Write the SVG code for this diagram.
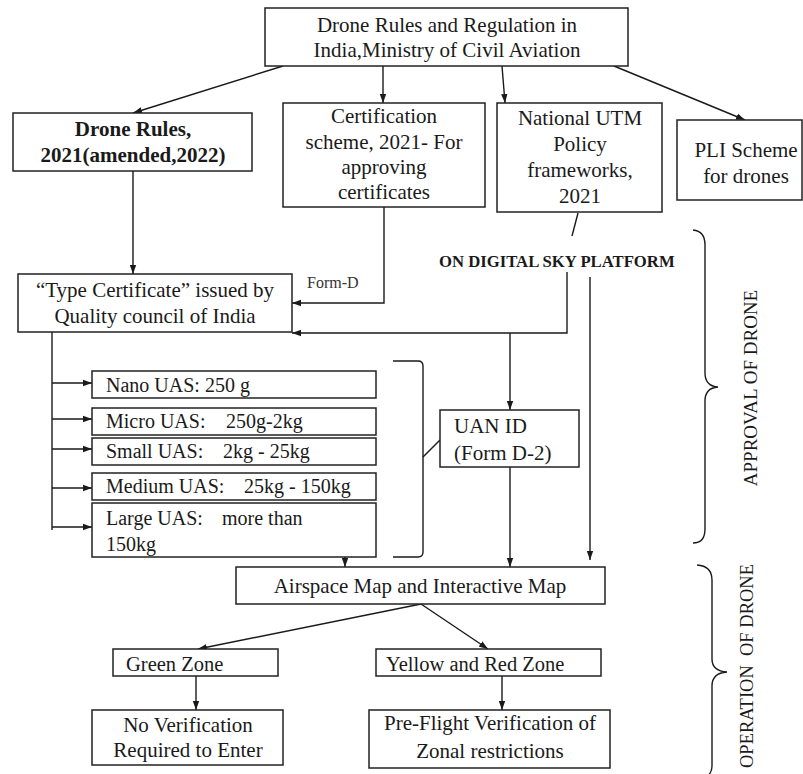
<svg xmlns="http://www.w3.org/2000/svg" width="803" height="774" viewBox="0 0 803 774">
<defs>
<marker id="ah" markerWidth="10" markerHeight="8" refX="9" refY="4" orient="auto" markerUnits="userSpaceOnUse">
<path d="M0,0.8 L9,4 L0,7.2 Z" fill="#1a1a1a"/>
</marker>
<style>
rect{fill:#fff;stroke:#222;stroke-width:1.5}
.t{font-family:"Liberation Serif","Times New Roman",serif;font-size:21px;fill:#1a1a1a}
.m{text-anchor:middle}
.u{font-size:20px}
.b{font-weight:bold}
.c line,.c polyline,.c path{fill:none;stroke:#1a1a1a;stroke-width:1.4}
.a{marker-end:url(#ah)}
</style>
</defs>
<rect x="0" y="0" width="803" height="774" style="fill:#fff;stroke:none"/>

<g id="connectors" class="c">
<line class="a" x1="283" y1="66" x2="133" y2="113"/>
<line class="a" x1="383" y1="66" x2="383" y2="103"/>
<line class="a" x1="502" y1="66" x2="505" y2="103"/>
<line class="a" x1="614" y1="66" x2="745" y2="120"/>
<line class="a" x1="133" y1="171" x2="133" y2="274"/>
<polyline class="a" points="384,207 384,303 292,303"/>
<line x1="578" y1="213" x2="572" y2="236"/>
<polyline class="a" points="567,272 567,333 292,333"/>
<line class="a" x1="510" y1="333" x2="510" y2="410"/>
<line class="a" x1="590" y1="277" x2="590" y2="560"/>
<line x1="52" y1="332" x2="52" y2="530"/>
<line class="a" x1="52" y1="383" x2="92" y2="383"/>
<line class="a" x1="52" y1="419" x2="92" y2="419"/>
<line class="a" x1="52" y1="449" x2="92" y2="449"/>
<line class="a" x1="52" y1="488" x2="92" y2="488"/>
<line class="a" x1="52" y1="527" x2="92" y2="527"/>
<path d="M393,361 L418,361 Q423,361 423,366 L423,552 Q423,557 418,557 L393,557"/>
<line x1="423" y1="457" x2="440" y2="440"/>
<line class="a" x1="510" y1="467" x2="510" y2="567"/>
<line class="a" x1="345" y1="557" x2="345" y2="567"/>
<line class="a" x1="421" y1="604" x2="198" y2="649"/>
<line class="a" x1="421" y1="604" x2="488" y2="649"/>
<line class="a" x1="196" y1="676" x2="196" y2="710"/>
<line class="a" x1="502" y1="676" x2="502" y2="710"/>
<path d="M693,230 Q705,231 705,245 L705,373 Q705,386 718,387 Q705,388 705,401 L705,529 Q705,543 693,543"/>
<path d="M697,565 Q712,566 712,580 L712,659 Q712,671 727,672 Q712,673 712,686 L712,766 Q712,778 697,779"/>
</g>

<g id="n-top">
<rect x="265" y="8" width="363" height="58"/>
<text class="t m" x="447" y="32">Drone Rules and Regulation in</text>
<text class="t m" x="447" y="57">India,Ministry of Civil Aviation</text>
</g>
<g id="n-rules">
<rect x="13" y="113" width="239" height="58"/>
<text class="t m b" x="133" y="136">Drone Rules,</text>
<text class="t m b" x="133" y="162">2021(amended,2022)</text>
</g>
<g id="n-cert">
<rect x="283" y="103" width="202" height="104"/>
<text class="t m" x="384" y="123">Certification</text>
<text class="t m" x="384" y="149">scheme, 2021- For</text>
<text class="t m" x="384" y="174">approving</text>
<text class="t m" x="384" y="199">certificates</text>
</g>
<g id="n-utm">
<rect x="497" y="103" width="165" height="109"/>
<text class="t m" x="580" y="125">National UTM</text>
<text class="t m" x="580" y="151">Policy</text>
<text class="t m" x="580" y="177">frameworks,</text>
<text class="t m" x="580" y="203">2021</text>
</g>
<g id="n-pli">
<rect x="677" y="120" width="125" height="80"/>
<text class="t m" x="746" y="157">PLI Scheme</text>
<text class="t m" x="746" y="183">for drones</text>
</g>
<g id="n-sky">
<text class="t b" x="439" y="267" style="font-size:16.7px">ON DIGITAL SKY PLATFORM</text>
</g>
<g id="n-formd">
<text class="t" x="307" y="288" style="font-size:16px;fill:#333">Form-D</text>
</g>
<g id="n-type">
<rect x="18" y="274" width="274" height="58"/>
<text class="t m" x="155" y="297">“Type Certificate” issued by</text>
<text class="t m" x="155" y="323">Quality council of India</text>
</g>
<g id="n-nano">
<rect x="92" y="371" width="284" height="27"/>
<text class="t u" x="106" y="392">Nano UAS: 250 g</text>
</g>
<g id="n-micro">
<rect x="92" y="408" width="284" height="27"/>
<text class="t u" x="106" y="428">Micro UAS:<tspan x="226">250g-2kg</tspan></text>
</g>
<g id="n-small">
<rect x="92" y="438" width="284" height="27"/>
<text class="t u" x="106" y="458">Small UAS:<tspan x="223">2kg - 25kg</tspan></text>
</g>
<g id="n-medium">
<rect x="92" y="473" width="284" height="27"/>
<text class="t u" x="106" y="493">Medium UAS:<tspan x="244">25kg - 150kg</tspan></text>
</g>
<g id="n-large">
<rect x="92" y="503" width="284" height="54"/>
<text class="t u" x="106" y="525">Large UAS:<tspan x="222">more than</tspan></text>
<text class="t u" x="106" y="551">150kg</text>
</g>
<g id="n-uan">
<rect x="440" y="410" width="139" height="57"/>
<text class="t" x="454" y="433">UAN ID</text>
<text class="t" x="454" y="460">(Form D-2)</text>
</g>
<g id="n-airspace">
<rect x="236" y="567" width="369" height="37"/>
<text class="t m" x="420" y="593">Airspace Map and Interactive Map</text>
</g>
<g id="n-green">
<rect x="113" y="649" width="165" height="27"/>
<text class="t" x="126" y="671" style="font-size:20.5px">Green Zone</text>
</g>
<g id="n-yellow">
<rect x="376" y="649" width="225" height="27"/>
<text class="t" x="386" y="671" style="font-size:20.5px">Yellow and Red Zone</text>
</g>
<g id="n-nover">
<rect x="92" y="710" width="191" height="55"/>
<text class="t m" x="188" y="732">No Verification</text>
<text class="t m" x="188" y="757">Required to Enter</text>
</g>
<g id="n-preflight">
<rect x="369" y="710" width="241" height="58"/>
<text class="t m" x="490" y="730">Pre-Flight Verification of</text>
<text class="t m" x="490" y="758">Zonal restrictions</text>
</g>
<g id="n-approval">
<text class="t m" transform="translate(757,388) rotate(-90)" style="font-size:19px">APPROVAL OF DRONE</text>
</g>
<g id="n-operation">
<text class="t m" transform="translate(753,666) rotate(-90)" style="font-size:18.5px" xml:space="preserve">OPERATION  OF DRONE</text>
</g>
</svg>
